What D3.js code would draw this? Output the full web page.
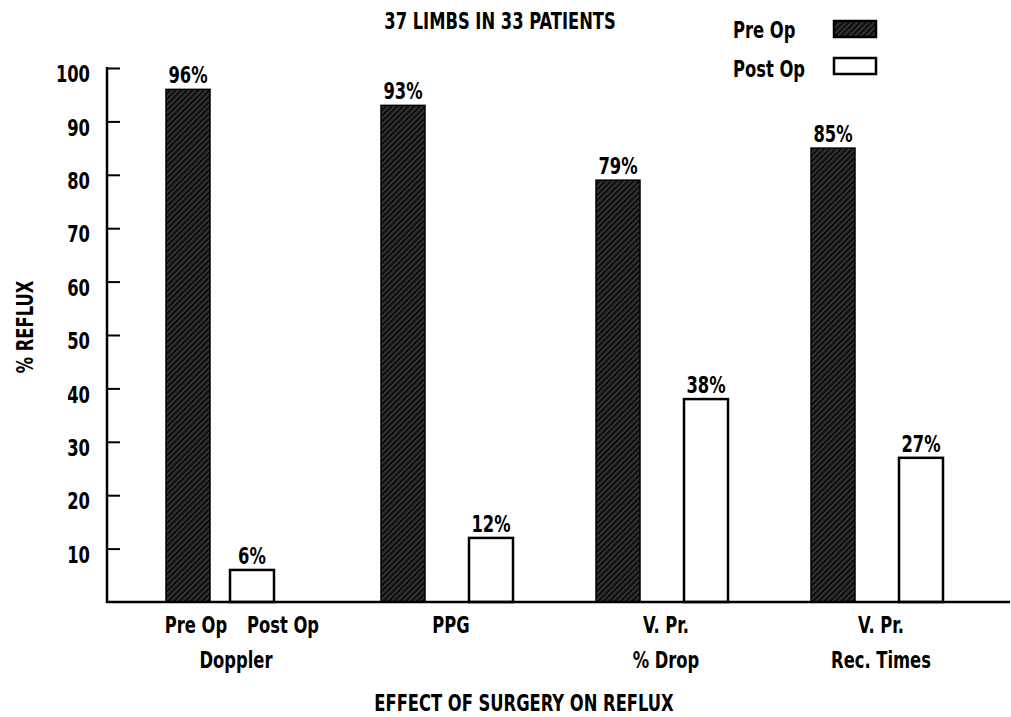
<!DOCTYPE html>
<html>
<head>
<meta charset="utf-8">
<script src="https://cdn.jsdelivr.net/npm/d3@7"></script>
<style>
  body { margin: 0; background: #fff; }
  text { font-family: "DejaVu Sans Condensed", "DejaVu Sans", sans-serif; font-stretch: condensed; font-weight: bold; fill: #000; }
</style>
</head>
<body>
<div id="chart"></div>
<script>
// Data
const groups = ["Doppler", "PPG", "V. Pr. % Drop", "V. Pr. Rec. Times"];
const series = ["Pre Op", "Post Op"];
const preOp = [96, 93, 79, 85];
const postOp = [6, 12, 38, 27];
const yTicks = [10, 20, 30, 40, 50, 60, 70, 80, 90, 100];
const groupLabels = [["Doppler"], ["PPG"], ["V. Pr.", "% Drop"], ["V. Pr.", "Rec. Times"]];

const width = 1011, height = 717;
const fs = 23, sx = 0.79;   // tall narrow lettering of the original

const svg = d3.select("#chart")
    .append("svg")
    .attr("width", width)
    .attr("height", height);

// draws a squeezed text at (x, y)
function label(x, y, t, anchor = "middle", rot = 0) {
    return svg.append("text")
        .attr("transform", `translate(${x},${y}) rotate(${rot}) scale(${sx},1)`)
        .attr("text-anchor", anchor)
        .attr("font-size", fs)
        .text(t);
}

// hatch pattern for the dark bars
const defs = svg.append("defs");
const pat = defs.append("pattern")
    .attr("id", "hatch")
    .attr("patternUnits", "userSpaceOnUse")
    .attr("width", 4)
    .attr("height", 4)
    .attr("patternTransform", "rotate(-45)");
pat.append("rect").attr("width", 4).attr("height", 4).attr("fill", "#0d0d0d");
pat.append("line")
    .attr("x1", 0).attr("y1", 2).attr("x2", 4).attr("y2", 2)
    .attr("stroke", "#7a7a7a")
    .attr("stroke-width", 0.7);

// scales
const y = d3.scaleLinear().domain([0, 100]).range([602, 68]);

const x0 = d3.scaleBand()
    .domain(groups)
    .range([150, 150 + 860]);

// Doppler has its own sub labels so its two bars sit closer together
const x1 = d3.scalePoint().domain(series).range([16, 104]);
const x1Doppler = d3.scalePoint().domain(series).range([16, 80]);
const barW = 44;

const subX = (g, s) => x0(g) + (g === "Doppler" ? x1Doppler(s) : x1(s));

const bars = groups.flatMap((g, i) => [
    { group: g, series: "Pre Op", value: preOp[i] },
    { group: g, series: "Post Op", value: postOp[i] }
]);

// bars
svg.selectAll("rect.bar")
    .data(bars)
    .enter().append("rect")
    .attr("class", "bar")
    .attr("x", d => subX(d.group, d.series))
    .attr("y", d => y(d.value))
    .attr("width", barW)
    .attr("height", d => y(0) - y(d.value))
    .attr("fill", d => d.series === "Pre Op" ? "url(#hatch)" : "#fff")
    .attr("stroke", "#000")
    .attr("stroke-width", d => d.series === "Pre Op" ? 1.5 : 2.5);

// value labels
bars.forEach(d => label(subX(d.group, d.series) + barW / 2, y(d.value) - 6, d.value + "%"));

// Y axis
const yAxis = svg.append("g")
    .attr("transform", "translate(107,0)")
    .call(d3.axisLeft(y).tickValues(yTicks).tickSize(-13).tickPadding(17))
    .call(g => g.select(".domain").remove());
yAxis.selectAll(".tick line").attr("stroke", "#000").attr("stroke-width", 2);
yAxis.selectAll(".tick text")
    .attr("font-size", fs)
    .attr("font-family", null)
    .attr("x", null)
    .attr("dy", "0.42em")
    .attr("transform", `translate(-17,4) scale(${sx},1)`);

svg.append("line")
    .attr("x1", 107).attr("x2", 107)
    .attr("y1", y(100) - 1).attr("y2", y(0) + 1)
    .attr("stroke", "#000").attr("stroke-width", 2.5);

// X axis baseline
svg.append("line")
    .attr("x1", 106).attr("x2", 1010)
    .attr("y1", y(0)).attr("y2", y(0))
    .attr("stroke", "#000").attr("stroke-width", 2.5);

// sub labels under Doppler bars
series.forEach((s, i) => {
    label(subX("Doppler", s) + barW / 2 + (i === 0 ? 8 : 31), 633, s);
});

// group labels
groupLabels.forEach((lines, i) => {
    const g = groups[i];
    const cx = i === 0 ? 236 : (subX(g, "Pre Op") + subX(g, "Post Op") + barW) / 2 + 4;
    const startY = i === 0 ? 668 : 633;
    lines.forEach((t, j) => label(cx, startY + j * 35, t));
});

// titles
label(500, 29, "37 LIMBS IN 33 PATIENTS");
label(524, 711, "EFFECT OF SURGERY ON REFLUX");
label(33, 327, "% REFLUX", "middle", -90);

// legend
series.forEach((s, i) => {
    label(733, 38 + i * 39, s, "start");
    svg.append("rect")
        .attr("x", 834)
        .attr("y", 21 + i * 37)
        .attr("width", 42)
        .attr("height", 16)
        .attr("fill", i === 0 ? "url(#hatch)" : "#fff")
        .attr("stroke", "#000")
        .attr("stroke-width", 2.5);
});
</script>
</body>
</html>
